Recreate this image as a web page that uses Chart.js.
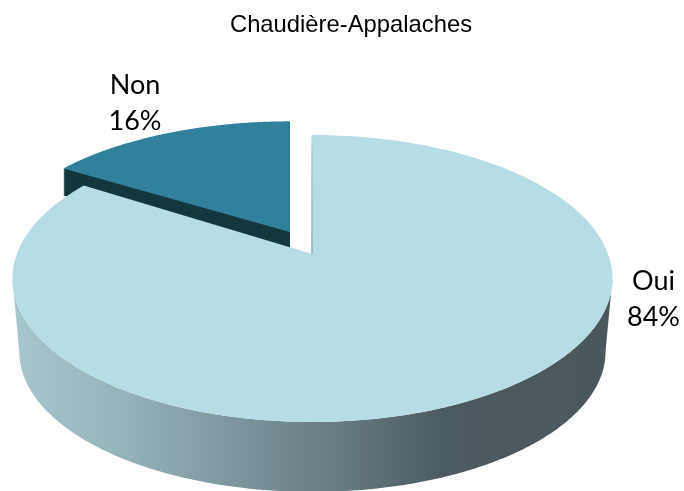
<!DOCTYPE html>
<html>
<head>
<meta charset="utf-8">
<style>html,body{margin:0;padding:0;background:#fff}canvas{display:block}</style>
<script src="https://cdn.jsdelivr.net/npm/chart.js@4"></script>
</head>
<body>
<canvas id="c" width="684" height="491"></canvas>
<script>
const categories = ['Oui', 'Non'];
const values = [84, 16];
const colours = ['#b6dce6', '#31819c'];
const chartTitle = 'Chaudière-Appalaches';

// perspective projection of the unit disc onto the page
const K = 0.1708, A = 295.6, B = 139.3, X0 = 312.4, Y0 = 254;
function project(a, r, o) {
  o = o || {};
  const u = r * Math.cos(a), v = r * Math.sin(a), d = 1 - K * v;
  const sx = o.sx || 1, sy = o.sy || 1;
  return [X0 + (o.dx || 0) + sx * A * u / d, Y0 + (o.dy || 0) + sy * B * v / d];
}
function sectorPath(ctx, a0, a1, o) {
  ctx.beginPath();
  const c = project(0, 0, o);
  ctx.moveTo(c[0], c[1]);
  for (let i = 0; i <= 240; i++) {
    const p = project(a0 + (a1 - a0) * i / 240, 1, o);
    ctx.lineTo(p[0], p[1]);
  }
  ctx.closePath();
}
const perspectivePie = {
  id: 'perspectivePie',
  beforeDatasetDraw(chart, args) {
    const ctx = chart.ctx, arcs = args.meta.data;
    const main = arcs[0], cut = arcs[1];
    const lift = { dx: -22.6, dy: -22, sx: 0.99, sy: 0.93 };
    ctx.save();

    // rim of the large slice
    const lower = { sx: 0.977, sy: 0.977, dy: 73.8 };
    const s = Math.asin(K), e = Math.PI - s;
    ctx.beginPath();
    for (let i = 0; i <= 240; i++) {
      const p = project(s + (e - s) * i / 240, 1);
      i ? ctx.lineTo(p[0], p[1]) : ctx.moveTo(p[0], p[1]);
    }
    for (let i = 240; i >= 0; i--) {
      const p = project(s + (e - s) * i / 240, 1, lower);
      ctx.lineTo(p[0], p[1]);
    }
    ctx.closePath();
    const g = ctx.createLinearGradient(15, 0, 612, 0);
    g.addColorStop(0, '#a6c6ce');
    g.addColorStop(0.18, '#95b3bb');
    g.addColorStop(0.55, '#657980');
    g.addColorStop(0.72, '#4c5b61');
    g.addColorStop(1, '#4a575d');
    ctx.fillStyle = g;
    ctx.fill();

    // wall of the pulled slice
    ctx.fillStyle = '#14363f';
    for (let d = 1; d <= 27; d++) {
      sectorPath(ctx, cut.startAngle, cut.endAngle, Object.assign({}, lift, { dy: lift.dy + d }));
      ctx.fill();
    }
    // top of the pulled slice
    sectorPath(ctx, cut.startAngle, cut.endAngle, lift);
    ctx.fillStyle = cut.options.backgroundColor;
    ctx.fill();

    // inner edge of the large slice, visible in the gap
    const q = project(main.startAngle, 1), c = project(0, 0);
    const lg = ctx.createLinearGradient(0, q[1], 0, c[1]);
    lg.addColorStop(0, '#b6dce6');
    lg.addColorStop(0.15, '#a0b4bb');
    lg.addColorStop(1, '#74838a');
    ctx.strokeStyle = lg;
    ctx.lineWidth = 1.5;
    ctx.beginPath();
    ctx.moveTo(q[0] - 0.2, q[1]);
    ctx.lineTo(c[0] - 0.2, c[1]);
    ctx.stroke();

    // top of the large slice
    sectorPath(ctx, main.startAngle, main.endAngle, null);
    ctx.fillStyle = main.options.backgroundColor;
    ctx.fill();

    ctx.restore();
    return false;
  },
  afterDraw(chart) {
    const ctx = chart.ctx;
    const spots = [[653.5, 281], [135, 85]];
    ctx.save();
    ctx.fillStyle = '#000';
    ctx.font = '27px Lato, "Open Sans", sans-serif';
    ctx.textAlign = 'center';
    ctx.textBaseline = 'middle';
    categories.forEach((name, i) => {
      ctx.fillText(name, spots[i][0], spots[i][1]);
      ctx.fillText(values[i] + '%', spots[i][0], spots[i][1] + 36);
    });
    ctx.restore();
  }
};
new Chart(document.getElementById('c'), {
  type: 'pie',
  data: { labels: categories, datasets: [{ data: values, backgroundColor: colours, borderWidth: 0 }] },
  plugins: [perspectivePie],
  options: {
    responsive: false,
    animation: false,
    layout: { padding: { left: 18 } },
    plugins: {
      legend: { display: false },
      tooltip: { enabled: false },
      title: {
        display: true,
        text: chartTitle,
        color: '#000',
        font: { family: '"Liberation Sans", Arial, sans-serif', size: 23.8, weight: 'normal' },
        padding: { top: 11, bottom: 10 }
      }
    }
  }
});
</script>
</body>
</html>
